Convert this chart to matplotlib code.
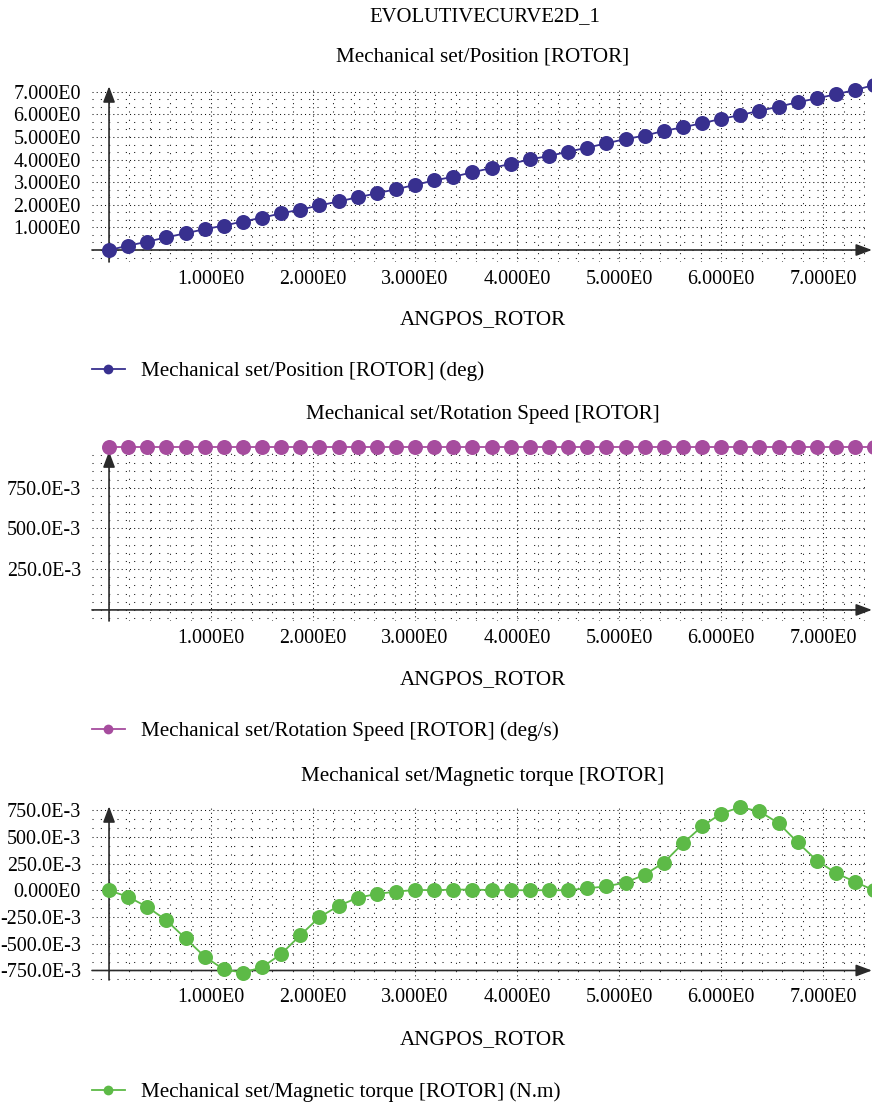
import matplotlib
matplotlib.use("Agg")
import matplotlib.pyplot as plt
from matplotlib.ticker import MultipleLocator

plt.rcParams["font.family"] = ["Liberation Serif", "DejaVu Serif"]

# rotor angular position (deg), shared x for all three curves
angpos = [0.0, 0.1875, 0.375, 0.5625, 0.75, 0.9375, 1.125, 1.3125, 1.5, 1.6875,
          1.875, 2.0625, 2.25, 2.4375, 2.625, 2.8125, 3.0, 3.1875, 3.375, 3.5625,
          3.75, 3.9375, 4.125, 4.3125, 4.5, 4.6875, 4.875, 5.0625, 5.25, 5.4375,
          5.625, 5.8125, 6.0, 6.1875, 6.375, 6.5625, 6.75, 6.9375, 7.125, 7.3125, 7.5]

position = [0.0, 0.19, 0.37, 0.56, 0.74, 0.92, 1.08, 1.26, 1.43, 1.62,
            1.79, 1.97, 2.15, 2.33, 2.51, 2.69, 2.88, 3.08, 3.24, 3.44,
            3.63, 3.81, 4.01, 4.16, 4.35, 4.53, 4.72, 4.91, 5.06, 5.27,
            5.43, 5.61, 5.80, 5.97, 6.16, 6.34, 6.54, 6.71, 6.89, 7.08, 7.30]

speed = [1.0, 1.0, 1.0, 1.0, 1.0, 1.0, 1.0, 1.0, 1.0, 1.0,
         1.0, 1.0, 1.0, 1.0, 1.0, 1.0, 1.0, 1.0, 1.0, 1.0,
         1.0, 1.0, 1.0, 1.0, 1.0, 1.0, 1.0, 1.0, 1.0, 1.0,
         1.0, 1.0, 1.0, 1.0, 1.0, 1.0, 1.0, 1.0, 1.0, 1.0, 1.0]

torque = [0.0, -0.06, -0.155, -0.28, -0.45, -0.62, -0.74, -0.77, -0.72, -0.595,
          -0.42, -0.25, -0.145, -0.068, -0.033, -0.011, 0.004, 0.003, 0.007, 0.008,
          0.003, 0.002, 0.002, 0.002, 0.002, 0.02, 0.038, 0.074, 0.147, 0.26,
          0.44, 0.60, 0.72, 0.78, 0.74, 0.63, 0.45, 0.28, 0.163, 0.08, 0.0]

x_ticks = [1, 2, 3, 4, 5, 6, 7]
x_tick_labels = ["1.000E0", "2.000E0", "3.000E0", "4.000E0", "5.000E0", "6.000E0", "7.000E0"]

pos_ticks = [1, 2, 3, 4, 5, 6, 7]
pos_tick_labels = ["1.000E0", "2.000E0", "3.000E0", "4.000E0", "5.000E0", "6.000E0", "7.000E0"]
speed_ticks = [0.25, 0.5, 0.75]
speed_tick_labels = ["250.0E-3", "500.0E-3", "750.0E-3"]
torque_ticks = [-0.75, -0.5, -0.25, 0.0, 0.25, 0.5, 0.75]
torque_tick_labels = ["-750.0E-3", "-500.0E-3", "-250.0E-3", "0.000E0",
                      "250.0E-3", "500.0E-3", "750.0E-3"]

W, H = 872, 1104
fig = plt.figure(figsize=(W / 100, H / 100), dpi=100)

fig.text(485 / W, 1 - 17 / H, "EVOLUTIVECURVE2D_1", ha="center", va="center", fontsize=14.9)

# pixel layout of each panel: top, bottom, y-limits, y minor step, where x axis crosses
panels = [
    dict(y=position, color="#38308F", title="Mechanical set/Position [ROTOR]",
         legend="Mechanical set/Position [ROTOR] (deg)",
         ticks=pos_ticks, labels=pos_tick_labels, top=88, bottom=262,
         ylim=(-0.531, 7.168), minor=1 / 3, xaxis_at=0.0,
         title_y=57, xlabel_y=320, legend_y=371),
    dict(y=speed, color="#A64C9E", title="Mechanical set/Rotation Speed [ROTOR]",
         legend="Mechanical set/Rotation Speed [ROTOR] (deg/s)",
         ticks=speed_ticks, labels=speed_tick_labels, top=453, bottom=621,
         ylim=(-0.068, 0.963), minor=0.05, xaxis_at=0.0,
         title_y=415, xlabel_y=680, legend_y=731),
    dict(y=torque, color="#5DBA47", title="Mechanical set/Magnetic torque [ROTOR]",
         legend="Mechanical set/Magnetic torque [ROTOR] (N.m)",
         ticks=torque_ticks, labels=torque_tick_labels, top=808, bottom=980,
         ylim=(-0.839, 0.772), minor=0.25 / 3, xaxis_at=-0.75,
         title_y=776, xlabel_y=1040, legend_y=1092),
]

left, right = 92, 865
axis_col = "#2a2a2a"

for p in panels:
    ax = fig.add_axes([left / W, 1 - p["bottom"] / H, (right - left) / W,
                       (p["bottom"] - p["top"]) / H])
    ax.set_xlim(-0.167, 7.41)
    ax.set_ylim(*p["ylim"])
    for s in ax.spines.values():
        s.set_visible(False)

    ax.set_xticks(x_ticks, x_tick_labels)
    ax.set_yticks(p["ticks"], p["labels"])
    ax.xaxis.set_minor_locator(MultipleLocator(0.2))
    ax.yaxis.set_minor_locator(MultipleLocator(p["minor"]))
    ax.tick_params(which="both", length=0)
    ax.tick_params(axis="x", pad=6, labelsize=14.4)
    ax.tick_params(axis="y", pad=8, labelsize=14.4)

    # sparse dotted grid, denser dots on the major lines
    ax.grid(which="major", color="#111111", linestyle=(0, (1, 3)), linewidth=0.75)
    ax.grid(which="minor", color="#111111", linestyle=(0, (1, 7)), linewidth=0.75)
    ax.set_axisbelow(True)

    # axis lines with arrow heads
    arrow = dict(arrowstyle="-|>,head_length=0.8,head_width=0.3", color=axis_col,
                 lw=1.2, shrinkA=0, shrinkB=0, mutation_scale=12)
    ax.annotate("", xy=(1.009, p["xaxis_at"]), xytext=(0.0, p["xaxis_at"]),
                xycoords=("axes fraction", "data"), textcoords=("axes fraction", "data"),
                arrowprops=arrow, annotation_clip=False)
    ax.annotate("", xy=(0.0, 1.01), xytext=(0.0, 0.0),
                xycoords=("data", "axes fraction"), textcoords=("data", "axes fraction"),
                arrowprops=arrow, annotation_clip=False)

    ax.plot(angpos, p["y"], color=p["color"], lw=1.3, marker="o", markersize=10.8,
            markeredgewidth=0, clip_on=False, zorder=5, label=p["legend"])

    fig.text(483 / W, 1 - p["title_y"] / H, p["title"], ha="center", va="center",
             fontsize=15.2)
    fig.text(483 / W, 1 - p["xlabel_y"] / H, "ANGPOS_ROTOR", ha="center", va="center",
             fontsize=15.2)
    ax.legend(loc="center left", bbox_to_anchor=(left / W, 1 - p["legend_y"] / H),
              bbox_transform=fig.transFigure, frameon=False, borderpad=0,
              borderaxespad=0, handlelength=1.55, handletextpad=0.75,
              markerscale=0.65, fontsize=15.2)

fig.savefig("out.png", dpi=100)
